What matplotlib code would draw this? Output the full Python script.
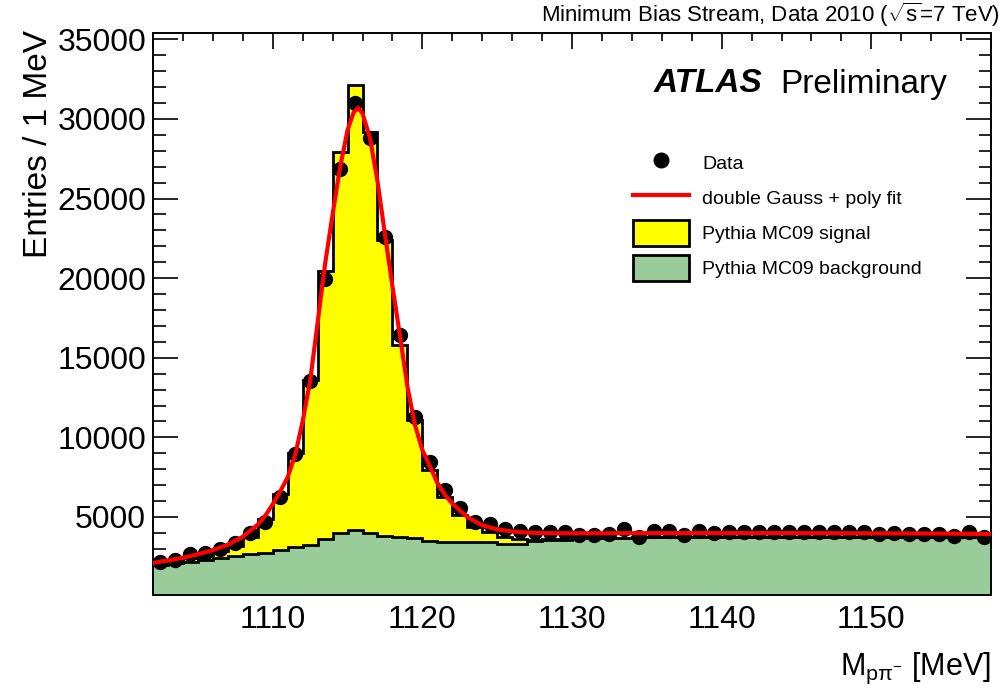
# Lambda -> p pi- invariant mass, data vs MC stack

import numpy as np
import matplotlib
matplotlib.use('Agg')
import matplotlib.pyplot as plt
from matplotlib.lines import Line2D
from matplotlib.patches import Patch
from matplotlib.ticker import MultipleLocator

# 1 MeV bins from 1102 to 1158
bin_lo = 1102
bin_hi = 1158

data_counts = [2190, 2330, 2670, 2750, 3020, 3340, 3970, 4700, 6270, 8950,
               13540, 19940, 26830, 30980, 28780, 22600, 16430, 11290, 8470, 6690,
               5540, 4700, 4580, 4230, 4120, 4070, 4070, 4070, 3860, 3860,
               3930, 4230, 3720, 4140, 4100, 3860, 4140, 3970, 4030, 4070,
               4030, 4030, 4030, 4070, 4030, 4030, 4070, 4030, 3930, 3970,
               3930, 3930, 3930, 3800, 4070, 3720]

mc_background = [2000, 2080, 2190, 2290, 2440, 2540, 2650, 2750, 2920, 3090,
                 3240, 3590, 4010, 4180, 4010, 3800, 3720, 3650, 3480, 3460,
                 3420, 3400, 3420, 3320, 3330, 3520, 3550, 3580, 3650, 3660,
                 3680, 3700, 3720, 3730, 3740, 3750, 3750, 3760, 3760, 3760,
                 3760, 3770, 3770, 3770, 3770, 3770, 3770, 3770, 3760, 3760,
                 3760, 3760, 3750, 3750, 3750, 3740]

mc_signal = [170, 220, 260, 330, 410, 610, 1100, 2150, 3530, 5910,
             10360, 16880, 23930, 27950, 25150, 18590, 12080, 7440, 4470, 2810,
             1700, 980, 630, 430, 270, 60, 50, 40, 0, 0,
             0, 0, 0, 0, 0, 0, 0, 0, 0, 0,
             0, 0, 0, 0, 0, 0, 0, 0, 0, 0,
             0, 0, 0, 0, 0, 0]

# fit curve
fit_x = [1102.0, 1103.0, 1104.0, 1105.0, 1106.0, 1107.0, 1108.0, 1109.0,
         1109.5, 1110.0, 1110.5, 1111.0, 1111.5, 1112.0, 1112.5, 1113.0, 1113.5, 1114.0, 1114.5, 1115.0,
         1115.4, 1115.7, 1116.0, 1116.5, 1117.0, 1117.5, 1118.0, 1118.5, 1119.0, 1119.5, 1120.0,
         1120.5, 1121.0, 1121.5, 1122.0, 1122.5, 1123.0,
         1124.0, 1125.0, 1126.0, 1127.0, 1128.0,
         1130.0, 1135.0, 1140.0, 1145.0, 1150.0, 1155.0, 1158.0]
fit_y = [2120, 2270, 2440, 2660, 2920, 3260, 3760, 4520,
         5080, 5800, 6600, 7500, 8900, 11000, 13550, 17200, 20900, 24000, 26950, 29300,
         30400, 30700, 30350, 28800, 26100, 22750, 19500, 16400, 13200, 10800, 9200,
         8200, 7150, 6400, 5850, 5420, 5000,
         4480, 4220, 4090, 4020, 3990,
         3975, 3985, 3990, 3990, 3975, 3960, 3930]

x_major = [1110, 1120, 1130, 1140, 1150]
y_major = [5000, 10000, 15000, 20000, 25000, 30000, 35000]

YELLOW = '#ffff00'
GREEN = '#99cc99'


def make_plot():
    plt.rcParams['font.family'] = ['Liberation Sans', 'DejaVu Sans']
    plt.rcParams['mathtext.fontset'] = 'custom'
    plt.rcParams['mathtext.rm'] = 'Liberation Sans'
    plt.rcParams['mathtext.it'] = 'Liberation Sans:italic'
    plt.rcParams['mathtext.bf'] = 'Liberation Sans:bold'

    fig = plt.figure(figsize=(10.06, 6.93), dpi=100)
    ax = fig.add_axes([0.1521, 0.1414, 0.8330, 0.8110])

    edges = np.arange(bin_lo, bin_hi + 1)
    centers = edges[:-1] + 0.5
    bkg = np.array(mc_background)
    total = bkg + np.array(mc_signal)

    ax.stairs(total, edges, fill=True, color=YELLOW, baseline=0, zorder=1)
    ax.stairs(bkg, edges, fill=True, color=GREEN, baseline=0, zorder=2)
    ax.stairs(total, edges, baseline=None, color='k', lw=2, zorder=3)
    ax.stairs(bkg, edges, baseline=None, color='k', lw=2, zorder=3)

    ax.plot(centers, data_counts, 'o', color='k', ms=10, zorder=4)
    ax.plot(fit_x, fit_y, color='red', lw=3, zorder=5)

    ax.set_xlim(bin_lo, bin_hi)
    ax.set_ylim(100, 35400)
    ax.set_xticks(x_major)
    ax.set_xticklabels([str(v) for v in x_major])
    ax.set_yticks(y_major)
    ax.set_yticklabels([str(v) for v in y_major])
    ax.xaxis.set_minor_locator(MultipleLocator(2))
    ax.yaxis.set_minor_locator(MultipleLocator(1000))
    ax.tick_params(which='both', direction='in', top=True, right=True,
                   width=1.2, labelsize=23)
    ax.tick_params(axis='x', which='major', length=11.5, pad=7)
    ax.tick_params(axis='x', which='minor', length=6)
    ax.tick_params(axis='y', which='major', length=18, pad=5)
    ax.tick_params(axis='y', which='minor', length=9)
    for sp in ax.spines.values():
        sp.set_linewidth(1.4)

    fig.text(0.038, 0.957, 'Entries / 1 MeV', rotation=90,
             ha='center', va='top', fontsize=24)
    fig.text(0.985, 1 - 668 / 693, r'M$_{\mathrm{pπ}^{-}}$ [MeV]',
             ha='right', va='center', fontsize=22)
    fig.text(0.994, 1 - 15 / 693,
             r'Minimum Bias Stream, Data 2010 ($\sqrt{\mathrm{s}}$=7 TeV)',
             ha='right', va='center', fontsize=16)
    fig.text(654 / 1006, 1 - 84 / 693, 'ATLAS', fontweight='bold',
             style='italic', fontsize=24, ha='left', va='center')
    fig.text(780 / 1006, 1 - 84 / 693, 'Preliminary',
             fontsize=24, ha='left', va='center')

    handles = [
        Line2D([], [], marker='o', ls='none', color='k', ms=10.5),
        Line2D([], [], color='red', lw=3),
        Patch(facecolor=YELLOW, edgecolor='k', lw=2),
        Patch(facecolor=GREEN, edgecolor='k', lw=2),
    ]
    labels = ['Data', 'double Gauss + poly fit',
              'Pythia MC09 signal', 'Pythia MC09 background']
    fig.legend(handles, labels, loc='upper left',
               bbox_to_anchor=(633 / 1006, 1 - 150 / 693),
               frameon=False, fontsize=14, borderpad=0, borderaxespad=0,
               handlelength=2.9, handleheight=1.7, handletextpad=0.67,
               labelspacing=0.45)

    fig.savefig('out.png', dpi=100)


def main():
    make_plot()


if __name__ == '__main__':
    main()
